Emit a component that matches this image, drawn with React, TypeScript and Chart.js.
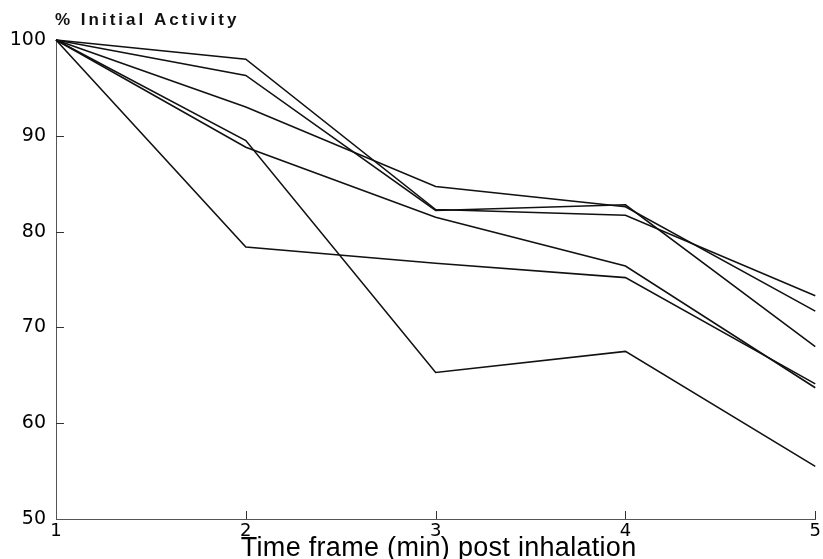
import React, { useEffect, useRef } from "react";
import { Chart, registerables } from "chart.js";

Chart.register(...registerables);

// ---- data ----
const timePoints = [1, 2, 3, 4, 5];
const subjectA = [100, 98.0, 82.3, 81.7, 73.3];
const subjectB = [100, 96.3, 82.2, 82.8, 68.0];
const subjectC = [100, 93.0, 84.7, 82.6, 71.7];
const subjectD = [100, 88.8, 81.5, 76.4, 63.7];
const subjectE = [100, 78.4, 76.7, 75.2, 64.1];
const subjectF = [100, 89.5, 65.3, 67.5, 55.5];
const allSeries = [subjectA, subjectB, subjectC, subjectD, subjectE, subjectF];

const yMin = 50;
const yMax = 100;
const yStep = 10;
const yInnerTicks = [60, 70, 80, 90];
const xInnerTicks = [2, 3, 4, 5];
const yAxisTitle = "% Initial Activity";
const xAxisTitle = "Time frame (min) post inhalation";

const FONT = "'Liberation Sans', Arial, Helvetica, sans-serif";
const TICK_FONT = "'DejaVu Sans', Verdana, sans-serif";

const decorPlugin = {
  id: "decor",
  afterDraw(chart: any) {
    const { ctx, chartArea, scales } = chart;
    const xs = scales.x;
    const ys = scales.y;
    ctx.save();
    ctx.strokeStyle = "#333";
    ctx.lineWidth = 1;
    ctx.beginPath();
    for (const v of yInnerTicks) {
      const py = Math.round(ys.getPixelForValue(v)) + 0.5;
      ctx.moveTo(chartArea.left, py);
      ctx.lineTo(chartArea.left + 8, py);
    }
    for (const v of xInnerTicks) {
      const px = Math.round(xs.getPixelForValue(v)) + 0.5;
      ctx.moveTo(px, chartArea.bottom);
      ctx.lineTo(px, chartArea.bottom - 8);
    }
    ctx.stroke();
    // y axis title above the axis
    ctx.fillStyle = "#111";
    ctx.font = `bold 17px ${FONT}`;
    (ctx as any).letterSpacing = "3px";
    ctx.textAlign = "left";
    ctx.textBaseline = "alphabetic";
    ctx.fillText(yAxisTitle, chartArea.left - 1, chartArea.top - 15);
    // x axis title below the tick labels
    (ctx as any).letterSpacing = "0.3px";
    ctx.font = `27px ${FONT}`;
    ctx.fillStyle = "#000";
    ctx.textAlign = "center";
    ctx.fillText(xAxisTitle, (chartArea.left + chartArea.right) / 2 + 3, 556);
    (ctx as any).letterSpacing = "0px";
    ctx.restore();
  },
};

export default function App() {
  const canvasRef = useRef<HTMLCanvasElement | null>(null);

  useEffect(() => {
    const canvas = canvasRef.current;
    if (!canvas) return;
    const chart = new Chart(canvas, {
      type: "line",
      data: {
        datasets: allSeries.map((s, i) => ({
          label: `Subject ${i + 1}`,
          data: s.map((v, j) => ({ x: timePoints[j], y: v })),
          borderColor: "#111",
          borderWidth: 1.6,
          pointRadius: 0,
          tension: 0,
          fill: false,
          clip: false as any,
        })),
      },
      options: {
        responsive: false,
        animation: false,
        devicePixelRatio: 1,
        layout: { padding: { top: 40, right: 6, left: 0, bottom: 0 } },
        plugins: {
          legend: { display: false },
          tooltip: { enabled: false },
          title: { display: false },
        },
        scales: {
          x: {
            type: "linear",
            min: 1,
            max: 5,
            ticks: {
              stepSize: 1,
              color: "#000",
              font: { family: TICK_FONT, size: 18 },
              padding: 2,
            },
            grid: { display: false, drawTicks: false },
            border: { display: true, color: "#555", width: 1 },
            title: { display: false, text: xAxisTitle },
            afterFit(scale: any) {
              scale.height = 40;
            },
          },
          y: {
            type: "linear",
            min: yMin,
            max: yMax,
            ticks: {
              stepSize: yStep,
              color: "#000",
              font: { family: TICK_FONT, size: 19 },
              padding: 10,
            },
            grid: { display: false, drawTicks: false },
            border: { display: true, color: "#555", width: 1 },
            afterFit(scale: any) {
              scale.width = 56;
            },
          },
        },
      },
      plugins: [decorPlugin],
    });
    return () => chart.destroy();
  }, []);

  return (
    <div
      style={{
        position: "fixed",
        left: 0,
        top: 0,
        width: 823,
        height: 559,
        background: "#fff",
      }}
    >
      <canvas ref={canvasRef} width={823} height={559} style={{ display: "block" }} />
    </div>
  );
}
